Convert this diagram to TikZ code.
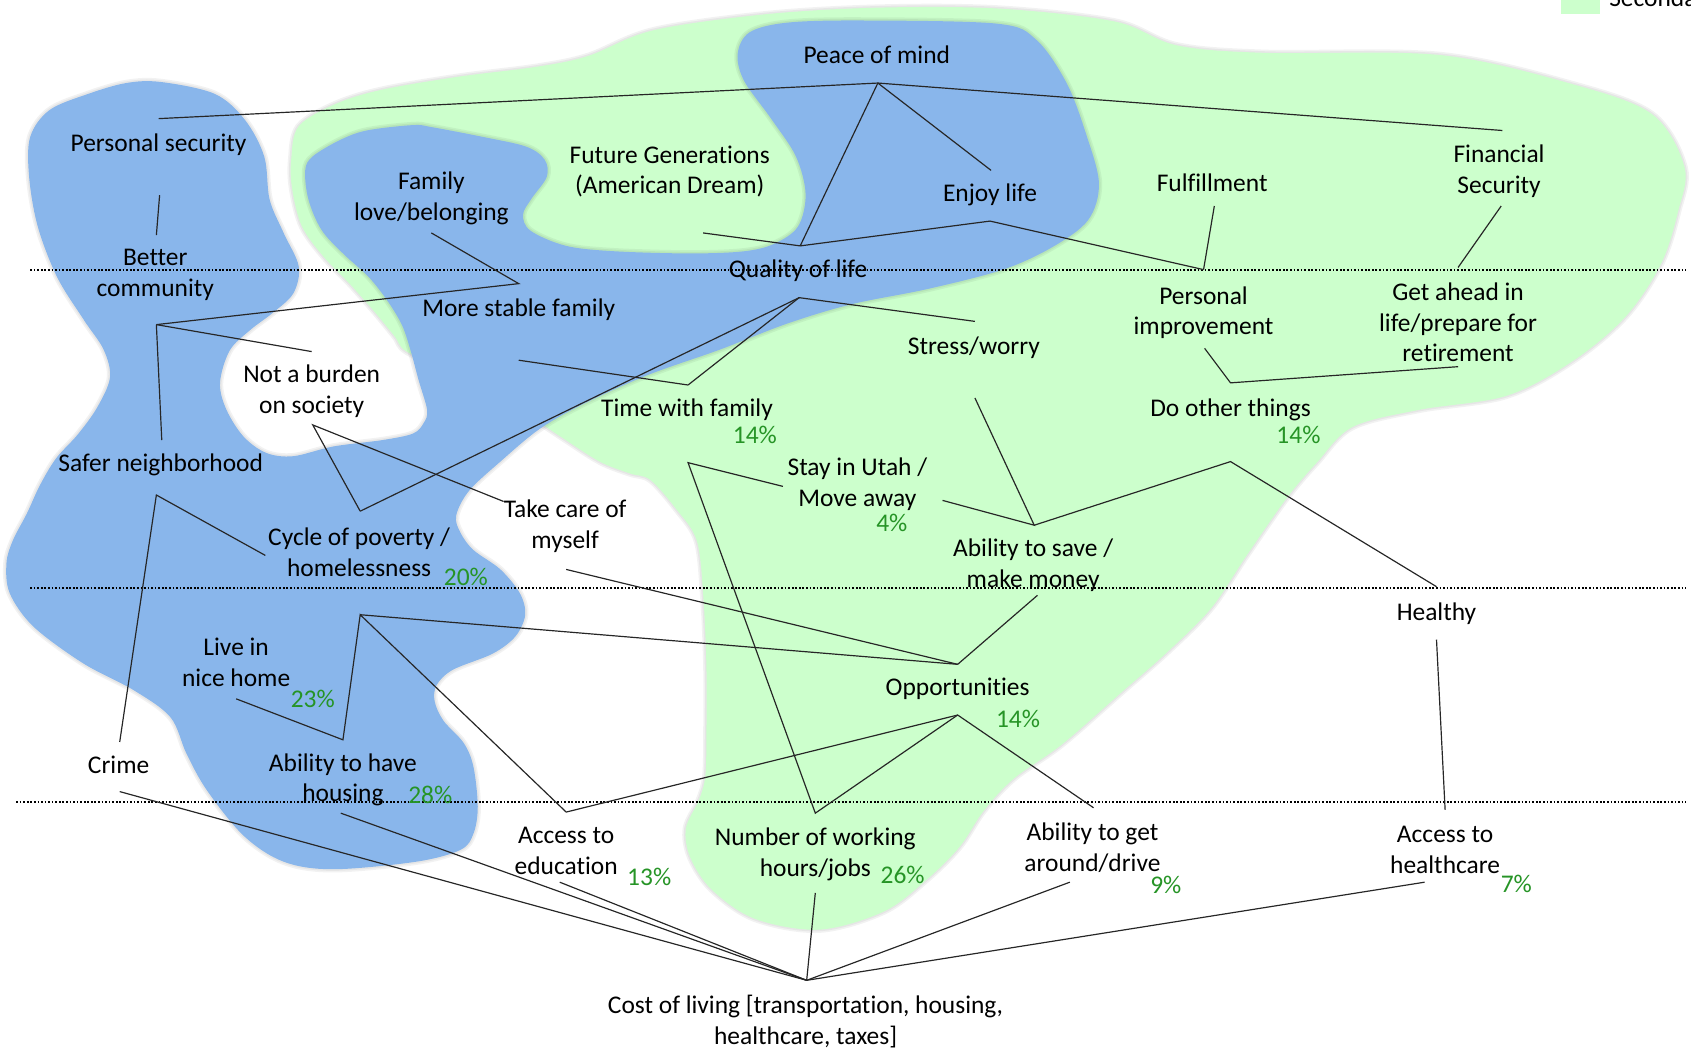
\documentclass[tikz,border=0pt]{standalone}
\usepackage{fontspec}
\setmainfont{Carlito}[Ligatures=NoCommon]
\definecolor{blobblue}{RGB}{137,182,235}
\definecolor{blobgreen}{RGB}{204,255,204}
\definecolor{pctgreen}{RGB}{38,148,38}
\newcommand\GreenBlobPath[1]{\path[#1] plot[smooth cycle, tension=0.55] coordinates {
(270,148) (277,117) (312,96) (355,83) (426,71) (497,62) (545,52) (606,28) (712,13) (818,7) (927,8) (1034,20) (1091,42) (1172,49) (1335,51) (1458,78) (1532,106) (1562,155) (1556,196) (1540,245) (1507,294) (1458,335) (1397,367) (1316,380) (1254,396) (1221,429) (1193,462) (1156,515) (1123,564) (1082,605) (1041,641) (985,690) (940,722) (912,752) (890,785) (860,815) (820,845) (760,862) (700,852) (660,825) (640,795) (636,768) (648,742) (654,720) (655,683) (655,617) (652,551) (646,501) (627,472) (603,445) (584,439) (556,428) (520,405) (470,372) (420,346) (377,326) (366,312) (348,290) (325,264) (300,238) (280,210) (271,176)};}
\newcommand\BlueBlobPath[1]{\path[#1] plot[smooth cycle, tension=0.55] coordinates {
(283,158) (290,145) (315,130) (340,121) (383,116) (401,118) (448,127) (488,136) (505,148) (507,164) (493,184) (485,199) (492,214) (525,228) (570,233) (640,235) (690,233) (718,226) (740,210) (747,180) (738,145) (715,110) (690,75) (684,50) (695,30) (730,21) (800,19) (925,22) (961,37) (989,77) (1007,124) (1019,170) (1009,204) (976,229) (930,250) (860,268) (790,282) (730,300) (668,324) (600,348) (540,375) (500,398) (464,428) (435,455) (423,478) (427,494) (439,510) (464,528) (482,550) (487,570) (478,590) (457,606) (420,621) (405,635) (403,650) (411,668) (430,689) (439,711) (443,748) (439,773) (427,788) (386,799) (309,806) (263,799) (226,775) (192,733) (173,699) (158,665) (124,640) (77,615) (31,581) (9,550) (6,522) (12,501) (25,476) (37,450) (52,425) (72,403) (90,378) (102,350) (96,324) (78,297) (53,257) (35,210) (27,164) (28,127) (46,102) (82,87) (117,77) (149,76) (199,87) (227,111) (245,145) (250,185) (263,216) (277,247) (272,272) (253,290) (232,306) (213,325) (204,355) (210,380) (226,405) (247,420) (272,423) (309,414) (355,408) (383,402) (393,392) (396,380) (388,352) (381,326) (373,302) (360,280) (342,257) (318,235) (298,213) (286,185)};}
\begin{document}
\begin{tikzpicture}[x=1pt,y=-1pt,
  font=\fontsize{23.6}{28.5}\selectfont,
  lbl/.style={align=center, inner sep=0pt, text=black, yshift=-2pt},
  pct/.style={inner sep=0pt, text=pctgreen, yshift=-1pt},
  conn/.style={line width=1.1pt, black!85},
  dotline/.style={line width=1.8pt, dash pattern=on 1.6pt off 1.7pt, black},
  halo/.style={draw=black, opacity=0.05, line width=#1}]
\useasboundingbox (0,0) rectangle (1568,975);
% blobs
\GreenBlobPath{halo=6pt}
\GreenBlobPath{halo=3pt}
\GreenBlobPath{fill=blobgreen}
\BlueBlobPath{halo=6pt}
\BlueBlobPath{halo=3pt}
\BlueBlobPath{fill=blobblue}
% legend
\node[fill=blobgreen, minimum width=36pt, minimum height=13pt, inner sep=0pt, anchor=north west] (legbox) at (1447,0) {};
\node[anchor=base west, inner sep=0pt] (legtxt) at (1492,6) {Secondary};
% level lines
\draw[dotline] (28,250) -- (1563,250);
\draw[dotline] (28,545) -- (1563,545);
\draw[dotline] (15,744) -- (1563,744);
% text nodes
\node[lbl] (pom) at (813,49) {Peace of mind};
\node[lbl] (ps) at (147,132) {Personal security};
\node[lbl] (fam) at (400,182) {Family\\love/belonging};
\node[lbl] (fg) at (621,157) {Future Generations\\(American Dream)};
\node[lbl] (el) at (918,179) {Enjoy life};
\node[lbl] (fu) at (1124,167) {Fulfillment};
\node[lbl] (fs) at (1390,157) {Financial\\Security};
\node[lbl] (bc) at (144,253) {Better\\community};
\node[lbl] (ql) at (740,249) {Quality of life};
\node[lbl] (msf) at (481,285) {More stable family};
\node[lbl] (pi) at (1116,288) {Personal\\improvement};
\node[lbl] (ga) at (1352,297) {Get ahead in\\life/prepare for\\retirement};
\node[lbl] (sw) at (903,320) {Stress/worry};
\node[lbl] (nb) at (289,361) {Not a burden\\on society};
\node[lbl] (tf) at (637,378) {Time with family};
\node[pct] (tfp) at (700,402) {14\%};
\node[lbl] (do) at (1141,378) {Do other things};
\node[pct] (dop) at (1204,402) {14\%};
\node[lbl] (sn) at (149,429) {Safer neighborhood};
\node[lbl] (su) at (795,447) {Stay in Utah /\\Move away};
\node[pct] (sup2) at (827,484) {4\%};
\node[lbl] (tc) at (524,486) {Take care of\\myself};
\node[lbl] (cp) at (333,510) {Cycle of poverty /\\homelessness};
\node[pct] (cpp) at (432,534) {20\%};
\node[lbl] (as) at (958,522) {Ability to save /\\make money};
\node[lbl] (he) at (1332,567) {Healthy};
\node[lbl] (ln) at (219,612) {Live in\\nice home};
\node[pct] (lnp) at (290,647) {23\%};
\node[lbl] (op) at (888,637) {Opportunities};
\node[pct] (opp) at (944,666) {14\%};
\node[lbl] (cr) at (110,707) {Crime};
\node[lbl] (ah) at (318,721) {Ability to have\\housing};
\node[pct] (ahp) at (399,736) {28\%};
\node[lbl] (ae) at (525,787) {Access to\\education};
\node[pct] (aep) at (602,812) {13\%};
\node[lbl] (nw) at (756,790) {Number of working\\hours/jobs};
\node[pct] (nwp) at (837,810) {26\%};
\node[lbl] (ag) at (1013,784) {Ability to get\\around/drive};
\node[pct] (agp) at (1081,820) {9\%};
\node[lbl] (hc) at (1340,786) {Access to\\healthcare};
\node[pct] (hcp) at (1406,819) {7\%};
\node[lbl] (col) at (747,945) {Cost of living [transportation, housing,\\healthcare, taxes]};
% connection points
\coordinate (pom-b) at (814,77);
\coordinate (ps-t) at (147,110);
\coordinate (ps-b) at (148,181);
\coordinate (fs-t) at (1393,121);
\coordinate (fs-b) at (1392,191);
\coordinate (el-t) at (919,158);
\coordinate (el-b) at (918,205);
\coordinate (fg-b) at (652,216);
\coordinate (ql-t) at (742,228);
\coordinate (ql-b) at (741,276);
\coordinate (fu-b) at (1126,191);
\coordinate (pi-t) at (1116,250);
\coordinate (pi-b) at (1117,323);
\coordinate (ga-t) at (1352,248);
\coordinate (ga-b) at (1352,340);
\coordinate (do-t) at (1141,355);
\coordinate (do-b) at (1141,428);
\coordinate (sw-t) at (904,298);
\coordinate (sw-b) at (904,369);
\coordinate (tf-t) at (638,357);
\coordinate (tf-b) at (638,429);
\coordinate (msf-t) at (481,263);
\coordinate (msf-b) at (481,334);
\coordinate (fam-b) at (400,216);
\coordinate (bc-t) at (145,218);
\coordinate (bc-b) at (145,301);
\coordinate (nb-t) at (289,326);
\coordinate (nb-b) at (290,394);
\coordinate (sn-t) at (150,408);
\coordinate (sn-b) at (145,459);
\coordinate (cp-t) at (334,474);
\coordinate (cp-l) at (246,515);
\coordinate (cp-b) at (334,570);
\coordinate (tc-t) at (467,465);
\coordinate (tc-b) at (525,528);
\coordinate (su-l) at (726,451);
\coordinate (su-r) at (874,464);
\coordinate (as-t) at (959,487);
\coordinate (as-b) at (962,552);
\coordinate (he-t) at (1332,544);
\coordinate (he-b) at (1332,593);
\coordinate (op-t) at (888,616);
\coordinate (op-b) at (888,663);
\coordinate (ln-b) at (219,648);
\coordinate (ah-t) at (318,686);
\coordinate (ah-b) at (316,754);
\coordinate (cr-t) at (111,688);
\coordinate (cr-b) at (111,734);
\coordinate (ae-t) at (525,753);
\coordinate (ae-b) at (519,818);
\coordinate (nw-t) at (756,754);
\coordinate (nw-b) at (756,828);
\coordinate (ag-t) at (1014,749);
\coordinate (ag-b) at (992,818);
\coordinate (hc-t) at (1340,751);
\coordinate (hc-b) at (1321,818);
\coordinate (col-t) at (748,909);
% connectors
\draw[conn] (ps-t) -- (pom-b) -- (fs-t);
\draw[conn] (pom-b) -- (el-t);
\draw[conn] (pom-b) -- (ql-t);
\draw[conn] (fg-b) -- (ql-t) -- (el-b) -- (pi-t);
\draw[conn] (fu-b) -- (pi-t);
\draw[conn] (fs-b) -- (ga-t);
\draw[conn] (pi-b) -- (do-t) -- (ga-b);
\draw[conn] (ql-b) -- (sw-t);
\draw[conn] (ql-b) -- (tf-t);
\draw[conn] (ql-b) -- (cp-t);
\draw[conn] (msf-b) -- (tf-t);
\draw[conn] (fam-b) -- (msf-t) -- (bc-b);
\draw[conn] (ps-b) -- (bc-t);
\draw[conn] (bc-b) -- (nb-t);
\draw[conn] (bc-b) -- (sn-t);
\draw[conn] (cp-t) -- (nb-b) -- (tc-t);
\draw[conn] (cp-l) -- (sn-b) -- (cr-t);
\draw[conn] (tc-b) -- (op-t);
\draw[conn] (as-b) -- (op-t);
\draw[conn] (cp-b) -- (op-t);
\draw[conn] (ln-b) -- (ah-t) -- (cp-b) -- (ae-t) -- (op-b);
\draw[conn] (su-l) -- (tf-b) -- (nw-t) -- (op-b) -- (ag-t);
\draw[conn] (su-r) -- (as-t) -- (sw-b);
\draw[conn] (as-t) -- (do-b) -- (he-t);
\draw[conn] (he-b) -- (hc-t);
\draw[conn] (cr-b) -- (col-t);
\draw[conn] (ah-b) -- (col-t);
\draw[conn] (ae-b) -- (col-t);
\draw[conn] (nw-b) -- (col-t);
\draw[conn] (ag-b) -- (col-t);
\draw[conn] (hc-b) -- (col-t);
\end{tikzpicture}
\end{document}
